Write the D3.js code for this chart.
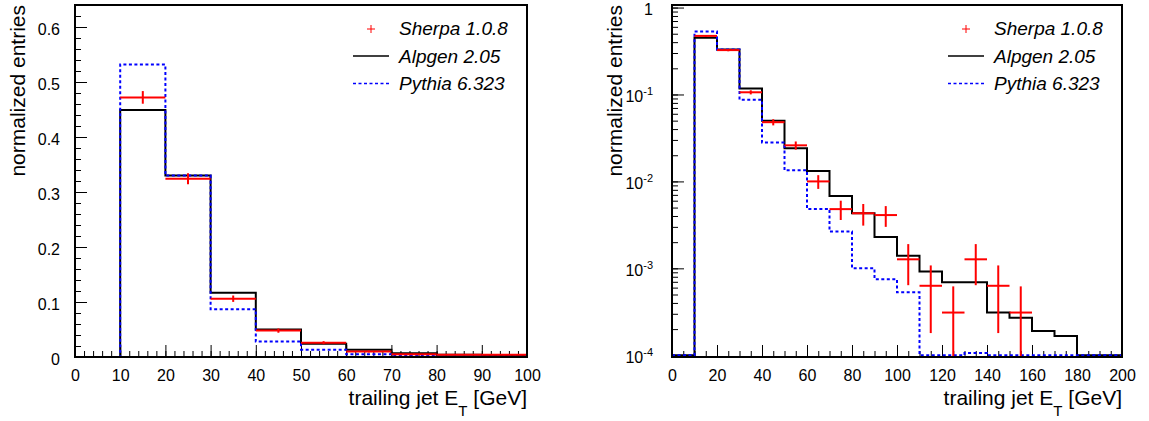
<!DOCTYPE html>
<html>
<head>
<meta charset="utf-8">
<script src="https://cdn.jsdelivr.net/npm/d3@7"></script>
<style>
  body { margin: 0; background: #fff; }
  svg { display: block; font-family: "Liberation Sans", Arial, Helvetica, sans-serif; }
</style>
</head>
<body>
<svg id="chart" width="1149" height="421"></svg>
<script>
// bin edges (GeV) and normalized entries
var binEdges = [0, 10, 20, 30, 40, 50, 60, 70, 80, 90, 100, 110, 120, 130, 140, 150, 160, 170, 180, 190, 200];
var alpgen = [0, 0.449, 0.330, 0.117, 0.050, 0.024, 0.0132, 0.0068, 0.0043, 0.0023, 0.0014, 0.00092, 0.00069, 0.00069, 0.00031, 0.00027, 0.00019, 0.000167, 0, 0];
var pythia = [0, 0.532, 0.330, 0.087, 0.028, 0.0134, 0.0048, 0.00265, 0.0010, 0.00075, 0.00053, 0, 0, 0.000106, 0, 0, 0, 0, 0, 0];
var sherpa = [0, 0.472, 0.324, 0.106, 0.048, 0.026, 0.010, 0.0048, 0.0043, 0.0041, 0.00127, 0.00063, 0.00031, 0.00127, 0.00063, 0.00031, 0, 0, 0, 0];
var sherpaErr = [0, 0.0115, 0.010, 0.0058, 0.0039, 0.0028, 0.0018, 0.0012, 0.0012, 0.0011, 0.00063, 0.00045, 0.00031, 0.00063, 0.00045, 0.00031, 0, 0, 0, 0];

var legendNames = ["Sherpa 1.0.8", "Alpgen 2.05", "Pythia 6.323"];
var xTitle = "trailing jet E";
var yTitle = "normalized entries";

var svg = d3.select("#chart");

// one panel = one frame (linear or log y)
function drawPanel(opt) {
  var x = d3.scaleLinear().domain(opt.xDomain).range([opt.left, opt.right]);
  var y = opt.log
    ? d3.scaleLog().domain(opt.yDomain).range([opt.bottom, opt.top])
    : d3.scaleLinear().domain(opt.yDomain).range([opt.bottom, opt.top]);
  // empty bins sit on the 1e-4 line in log mode
  var yv = v => opt.log ? y(Math.max(v, opt.yFloor)) : y(v);

  var g = svg.append("g");
  var clipId = "clip" + opt.id;
  g.append("clipPath").attr("id", clipId)
    .append("rect")
    .attr("x", opt.left).attr("y", opt.top)
    .attr("width", opt.right - opt.left).attr("height", opt.bottom - opt.top);

  // ticks inside the frame
  var xMajor = x.ticks(opt.xMajor), xMinor = x.ticks(opt.xMinor);
  g.append("g").attr("transform", `translate(0,${opt.bottom})`)
    .call(d3.axisBottom(x).tickValues(xMinor).tickSize(-6).tickFormat(""))
    .call(a => a.select(".domain").remove());
  var gx = g.append("g").attr("transform", `translate(0,${opt.bottom})`)
    .call(d3.axisBottom(x).tickValues(xMajor).tickSize(-12).tickPadding(13).tickFormat(d3.format("d")))
    .call(a => a.select(".domain").remove());
  gx.selectAll("text").attr("font-size", 16).attr("fill", "#000").attr("font-family", null);

  var yMajor, yMinor;
  if (opt.log) {
    var all = y.ticks();
    yMajor = all.filter(d => Math.abs(Math.log10(d) - Math.round(Math.log10(d))) < 1e-6);
    yMinor = all;
  } else {
    yMajor = y.ticks(opt.yMajor);
    yMinor = y.ticks(opt.yMinor);
  }
  g.append("g").attr("transform", `translate(${opt.left},0)`)
    .call(d3.axisLeft(y).tickValues(yMinor).tickSize(-6).tickFormat(""))
    .call(a => a.select(".domain").remove());
  var gy = g.append("g").attr("transform", `translate(${opt.left},0)`)
    .call(d3.axisLeft(y).tickValues(yMajor).tickSize(-12).tickPadding(opt.log ? 19 : 15)
      .tickFormat(opt.log ? (d => "") : d3.format("~g")))
    .call(a => a.select(".domain").remove());
  gy.selectAll("text").attr("font-size", 16).attr("fill", "#000").attr("font-family", null).attr("dy", "0.46em");
  if (opt.log) {
    gy.selectAll("text").each(function(d) {
      var t = d3.select(this);
      var e = Math.round(Math.log10(d));
      if (e == 0) { t.text("1"); return; }
      t.append("tspan").text("10");
      t.append("tspan").attr("font-size", 11).attr("dy", -7).text(e);
    });
  }
  svg.selectAll(".tick line").attr("stroke", "#000");

  // histograms as steps
  function stepPath(vals) {
    var p = d3.path();
    p.moveTo(x(binEdges[0]), yv(vals[0]));
    vals.forEach((v, i) => {
      if (i > 0) p.lineTo(x(binEdges[i]), yv(v));
      p.lineTo(x(binEdges[i + 1]), yv(v));
    });
    return p.toString();
  }
  var hg = g.append("g").attr("clip-path", `url(#${clipId})`).attr("fill", "none");
  hg.append("path").attr("d", stepPath(alpgen)).attr("stroke", "#000").attr("stroke-width", 2);
  hg.append("path").attr("d", stepPath(pythia)).attr("stroke", "#0000ff").attr("stroke-width", 2)
    .attr("stroke-dasharray", "3,2.5");

  // sherpa: horizontal bar across the bin + vertical error
  var pts = sherpa.map((v, i) => ({v: v, e: sherpaErr[i], lo: binEdges[i], hi: binEdges[i + 1]})).filter(d => d.v > 0);
  var eg = hg.append("g").attr("stroke", "#ff0000").attr("stroke-width", 2);
  eg.selectAll("line.h").data(pts).join("line")
    .attr("x1", d => x(d.lo)).attr("x2", d => x(d.hi))
    .attr("y1", d => yv(d.v)).attr("y2", d => yv(d.v));
  eg.selectAll("line.v").data(pts).join("line")
    .attr("x1", d => x((d.lo + d.hi) / 2)).attr("x2", d => x((d.lo + d.hi) / 2))
    .attr("y1", d => opt.log && d.v - d.e <= 0 ? opt.bottom : yv(d.v - d.e)).attr("y2", d => yv(d.v + d.e));

  // frame
  g.append("rect").attr("x", opt.left).attr("y", opt.top)
    .attr("width", opt.right - opt.left).attr("height", opt.bottom - opt.top)
    .attr("fill", "none").attr("stroke", "#000").attr("stroke-width", 2);

  // titles
  var xt = g.append("text").attr("x", opt.right).attr("y", 405)
    .attr("text-anchor", "end").attr("font-size", 21).text(xTitle);
  xt.append("tspan").attr("font-size", 15).attr("dy", 11).text("T");
  xt.append("tspan").attr("dy", -11).text(" [GeV]");
  g.append("text").attr("transform", `translate(${opt.left - 50},5) rotate(-90)`)
    .attr("text-anchor", "end").attr("font-size", 21).text(yTitle);

  // legend
  var lx = opt.right - 128;
  var lg = g.append("g");
  lg.append("path").attr("d", `M${lx - 32},29h8M${lx - 28},25v8`).attr("stroke", "#ff0000").attr("stroke-width", 1);
  lg.append("line").attr("x1", lx - 46).attr("x2", lx - 10).attr("y1", 56).attr("y2", 56)
    .attr("stroke", "#000").attr("stroke-width", 1.5);
  lg.append("line").attr("x1", lx - 46).attr("x2", lx - 10).attr("y1", 83.5).attr("y2", 83.5)
    .attr("stroke", "#0000ff").attr("stroke-width", 1.5).attr("stroke-dasharray", "3,2.5");
  lg.selectAll("text").data(legendNames).join("text")
    .attr("x", lx).attr("y", (d, i) => 35 + i * 27.5)
    .attr("font-size", 19).attr("font-style", "italic").text(d => d);
}

drawPanel({id: "lin", left: 75, right: 527, top: 5, bottom: 357, xDomain: [0, 100], yDomain: [0, 0.64],
  xMajor: 10, xMinor: 50, yMajor: 6, yMinor: 32, log: false});
drawPanel({id: "log", left: 672, right: 1122, top: 5, bottom: 357, xDomain: [0, 200], yDomain: [0.0000955, 1.07],
  yFloor: 0.0001, xMajor: 10, xMinor: 40, log: true});
</script>
</body>
</html>
